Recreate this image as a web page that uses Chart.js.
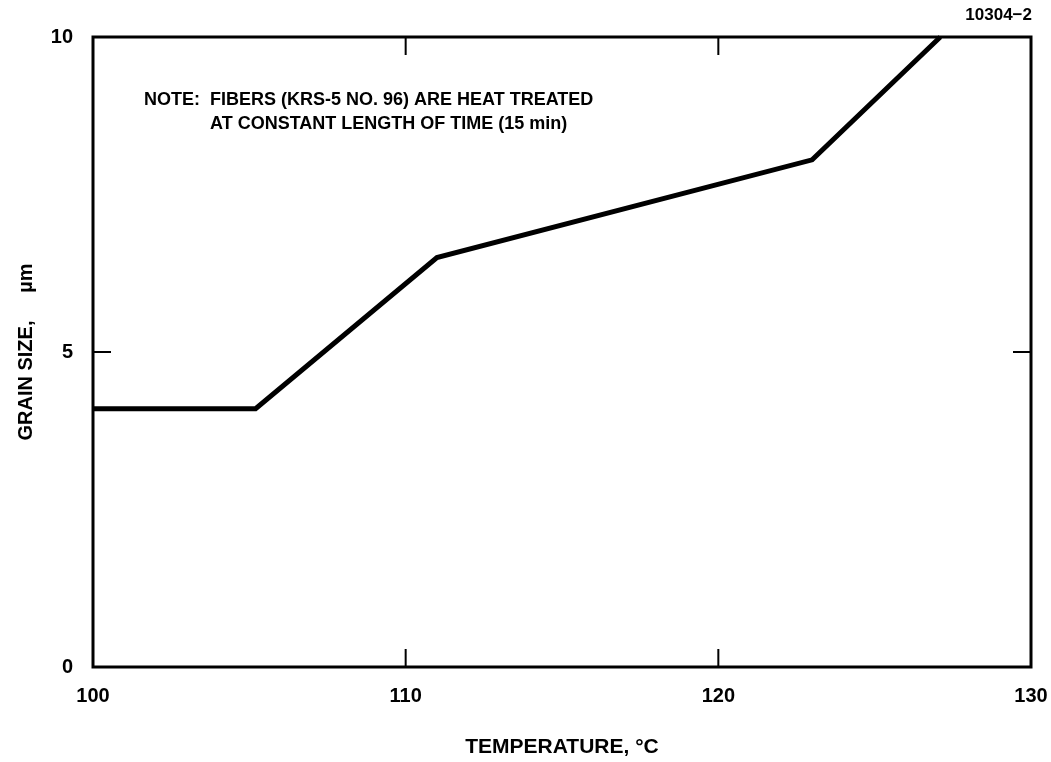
<!DOCTYPE html>
<html>
<head>
<meta charset="utf-8">
<script src="https://cdn.jsdelivr.net/npm/chart.js@4.4.1/dist/chart.umd.min.js"></script>
<style>
  html, body { margin: 0; padding: 0; background: #fff; }
  #wrap { width: 1051px; height: 762px; position: relative; }
</style>
</head>
<body>
<div id="wrap"><canvas id="c" width="1051" height="762"></canvas></div>
<script>
// Data
const temperatures = [100, 105.2, 111, 123, 127.1];
const grainSizes = [4.1, 4.1, 6.5, 8.05, 10];
const xTicks = [100, 110, 120, 130];
const yTicks = [0, 5, 10];
const xTitle = 'TEMPERATURE, \u00B0C';
const yTitle = 'GRAIN SIZE,     \u00B5m';
const noteLines = ['NOTE:  FIBERS (KRS-5 NO. 96) ARE HEAT TREATED', 'AT CONSTANT LENGTH OF TIME (15 min)'];
const figureId = '10304\u22122';

const FONT = 'Liberation Sans, Arial, Helvetica, sans-serif';

const framePlugin = {
  id: 'frame',
  afterDatasetsDraw(chart) {
    const { ctx, chartArea: a, scales } = chart;
    ctx.save();
    ctx.strokeStyle = '#000';
    ctx.lineWidth = 3;
    ctx.strokeRect(a.left, a.top, a.right - a.left, a.bottom - a.top);
    ctx.lineWidth = 2;
    const tl = 18;
    xTicks.forEach(v => {
      if (v === scales.x.min || v === scales.x.max) return;
      const px = scales.x.getPixelForValue(v);
      ctx.beginPath();
      ctx.moveTo(px, a.bottom); ctx.lineTo(px, a.bottom - tl);
      ctx.moveTo(px, a.top); ctx.lineTo(px, a.top + tl);
      ctx.stroke();
    });
    yTicks.forEach(v => {
      if (v === scales.y.min || v === scales.y.max) return;
      const py = scales.y.getPixelForValue(v);
      ctx.beginPath();
      ctx.moveTo(a.left, py); ctx.lineTo(a.left + tl, py);
      ctx.moveTo(a.right, py); ctx.lineTo(a.right - tl, py);
      ctx.stroke();
    });
    // annotation text
    ctx.fillStyle = '#000';
    ctx.font = 'bold 18px ' + FONT;
    ctx.textBaseline = 'middle';
    ctx.textAlign = 'left';
    ctx.fillText(noteLines[0], 144, 100);
    ctx.fillText(noteLines[1], 210, 124);
    ctx.font = 'bold 17px ' + FONT;
    ctx.textAlign = 'right';
    ctx.fillText(figureId, 1032, 15);
    ctx.restore();
  }
};

new Chart(document.getElementById('c'), {
  type: 'scatter',
  data: {
    datasets: [{
      data: temperatures.map((t, i) => ({ x: t, y: grainSizes[i] })),
      showLine: true,
      borderColor: '#000',
      borderWidth: 5,
      pointRadius: 0,
      tension: 0,
      clip: false
    }]
  },
  options: {
    responsive: false,
    animation: false,
    layout: { padding: { top: 37, right: 20, left: 0, bottom: 0 } },
    plugins: { legend: { display: false }, tooltip: { enabled: false } },
    scales: {
      x: {
        type: 'linear', min: 100, max: 130,
        afterBuildTicks(s) { s.ticks = xTicks.map(v => ({ value: v })); },
        afterFit(s) { s.height = 95; s.paddingRight = 0; },
        grid: { display: false, drawTicks: false },
        border: { display: false },
        ticks: { color: '#000', font: { family: FONT, size: 20, weight: 'bold' }, padding: 17, maxRotation: 0 },
        title: { display: true, text: xTitle, color: '#000', font: { family: FONT, size: 21, weight: 'bold' }, padding: { top: 0, bottom: 2 } }
      },
      y: {
        type: 'linear', min: 0, max: 10,
        afterBuildTicks(s) { s.ticks = yTicks.map(v => ({ value: v })); },
        afterFit(s) { s.width = 93; },
        grid: { display: false, drawTicks: false },
        border: { display: false },
        ticks: { color: '#000', font: { family: FONT, size: 20, weight: 'bold' }, padding: 20 },
        title: { display: true, text: yTitle, color: '#000', font: { family: FONT, size: 20, weight: 'bold' }, padding: { top: 14, bottom: 0 } }
      }
    }
  },
  plugins: [framePlugin]
});
</script>
</body>
</html>
